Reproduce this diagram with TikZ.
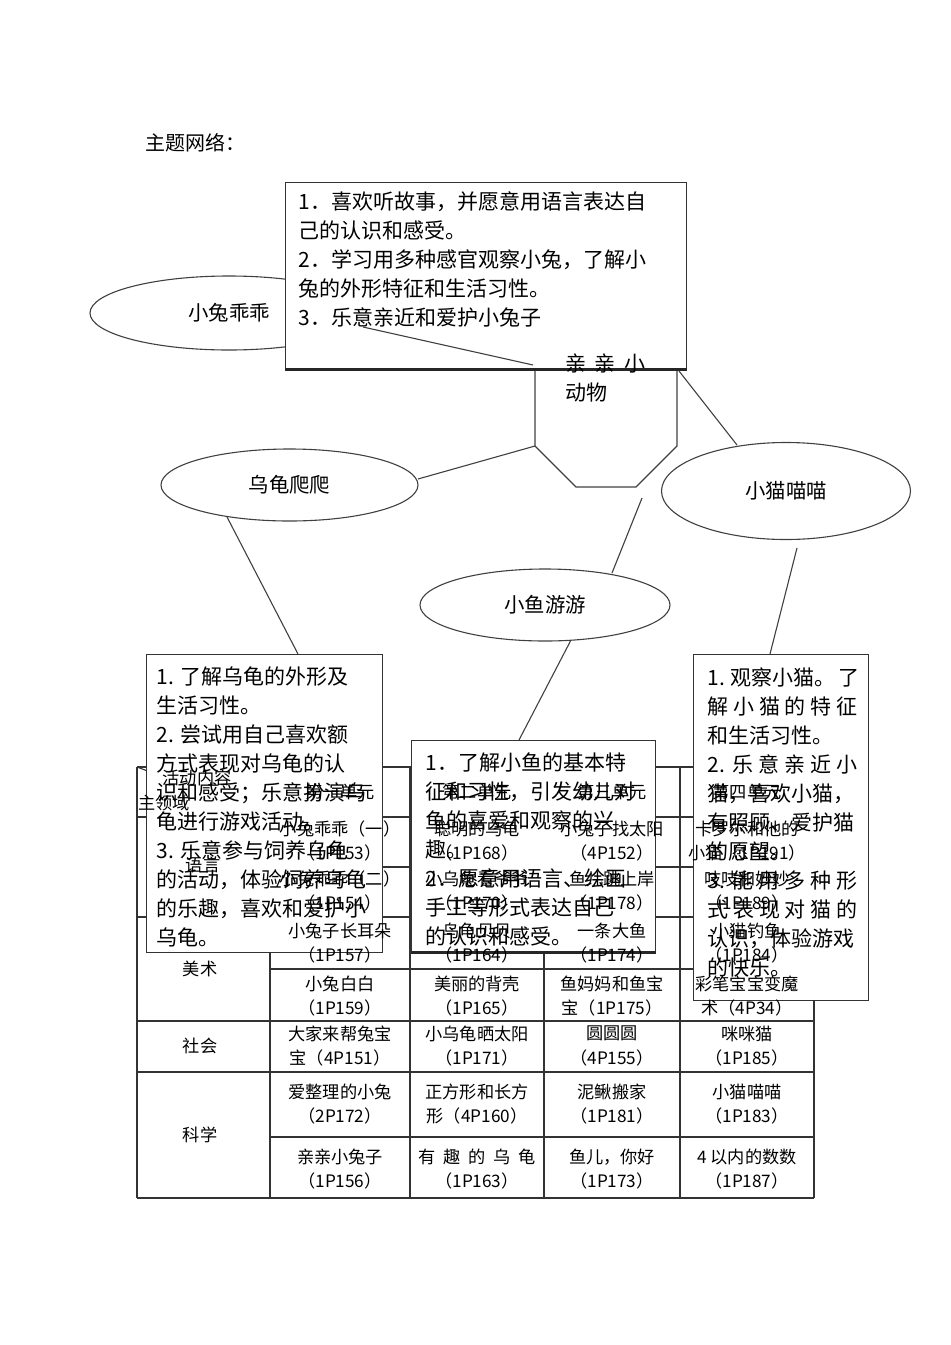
\documentclass[tikz,border=0pt]{standalone}
\usepackage{fontspec}
\setmainfont{Noto Sans CJK SC}
\usetikzlibrary{shapes.geometric}
\newcommand{\spreadline}[2][75pt]{\makebox[#1][s]{#2}}

\begin{document}
\begin{tikzpicture}[x=0.5pt,y=-0.5pt,
  every node/.style={inner sep=0pt},
  edge line/.style={draw=black!75,line width=0.55pt},
  topic/.style={ellipse,draw=black!75,line width=0.55pt,fill=white,font=\fontsize{10.2}{12}\selectfont},
  goal/.style={draw=black!80,fill=white,line width=0.6pt,anchor=north west},
  goaltext/.style={anchor=north west,align=left,font=\fontsize{10.5}{14.5}\selectfont},
  cellnode/.style={align=center,font=\fontsize{8.6}{12.3}\selectfont},
  tabline/.style={draw=black!80,line width=0.55pt}]
\useasboundingbox (0,0) rectangle (950,1345);

\node[anchor=west,font=\fontsize{10}{12}\selectfont] (title) at (145,143) {主题网络：};

% rabbit topic and centre
\node[topic,minimum width=139pt,minimum height=37pt] (rabbit) at (229,313) {小兔乖乖};
\draw[edge line] (576,280) -- (636,280) -- (677,321) -- (677,446) -- (636,487)
  -- (576,487) -- (535,446) -- (535,321) -- cycle;

\node[goal,minimum width=200.5pt,minimum height=93pt] (rabbitgoal) at (285,182) {};
\draw[line width=1.3pt,black!85] (rabbitgoal.south west) -- (rabbitgoal.south east);
\node[goaltext] (rabbittext) at (298,191) {1．喜欢听故事，并愿意用语言表达自\\
己的认识和感受。\\
2．学习用多种感官观察小兔，了解小\\
兔的外形特征和生活习性。\\
3．乐意亲近和爱护小兔子};
\node[goaltext] (hub) at (565,353) {\spreadline[40pt]{亲 亲 小}\\动物};

\coordinate (rabbitEnd) at (363,327);
\coordinate (hubTL) at (533,365);
\coordinate (hubL) at (535,446);
\coordinate (hubR) at (679,371);
\coordinate (hubB) at (642,498);
\coordinate (turtleR) at (418,479);
\coordinate (kittenTL) at (737,445);
\coordinate (fishT) at (612,573);
\coordinate (fishB) at (571,640);
\coordinate (fishgoalT) at (519,740);
\coordinate (turtleB) at (226,515);
\coordinate (turtlegoalT) at (298,654);
\coordinate (kittenB) at (797,548);
\coordinate (kittengoalT) at (770,654);

\draw[edge line] (rabbitEnd) -- (hubTL);
\draw[edge line] (hubL) -- (turtleR);
\draw[edge line] (hubR) -- (kittenTL);
\draw[edge line] (hubB) -- (fishT);
\draw[edge line] (fishB) -- (fishgoalT);
\draw[edge line] (turtleB) -- (turtlegoalT);
\draw[edge line] (kittenB) -- (kittengoalT);

\node[topic,minimum width=128.5pt,minimum height=36pt] (turtle) at (289.5,485) {乌龟爬爬};
\node[topic,minimum width=124.5pt,minimum height=48.5pt] (kitten) at (786,491) {小猫喵喵};
\node[topic,minimum width=125pt,minimum height=36pt] (fish) at (545,605) {小鱼游游};

% table
\draw[tabline] (137,767) -- (814,767) (137,817) -- (814,817) (270,867) -- (814,867)
  (137,917) -- (814,917) (270,969) -- (814,969) (137,1021) -- (814,1021)
  (137,1072) -- (814,1072) (270,1137) -- (814,1137) (137,1198) -- (814,1198);
\draw[tabline] (137,767) -- (137,1198) (270,767) -- (270,1198) (410,767) -- (410,1198)
  (544,767) -- (544,1198) (680,767) -- (680,1198) (814,767) -- (814,1198);
\draw[tabline] (137,767) -- (270,817);

% goal boxes
\node[goal,minimum width=118pt,minimum height=149pt] (turtlegoal) at (146,654) {};
\node[goaltext] (turtletext) at (156,666) {1. 了解乌龟的外形及\\
生活习性。\\
2. 尝试用自己喜欢额\\
方式表现对乌龟的认\\
识和感受；乐意扮演乌\\
龟进行游戏活动。\\
3. 乐意参与饲养乌龟\\
的活动，体验饲养乌龟\\
的乐趣，喜欢和爱护小\\
乌龟。};

\node[goal,minimum width=122pt,minimum height=105.5pt] (fishgoal) at (411,740) {};
\draw[line width=1.3pt,black!85] (fishgoal.south west) -- (fishgoal.south east);
\node[goaltext] (fishtext) at (425,752) {1．了解小鱼的基本特\\
征和习性，引发幼儿对\\
鱼的喜爱和观察的兴\\
趣。\\
2．愿意用语言、绘画\\
手工等形式表达自己\\
的认识和感受。};

\node[goal,minimum width=87.5pt,minimum height=173pt] (kittengoal) at (693,654) {};
\node[goaltext] (kittentext) at (707,667) {\spreadline{1. 观察小猫。 了}\\
\spreadline{解 小 猫 的 特 征}\\
和生活习性。\\
\spreadline{2. 乐 意 亲 近 小}\\
猫，喜欢小猫，\\
有照顾、爱护猫\\
的愿望。\\
\spreadline{3. 能 用 多 种 形}\\
\spreadline{式 表 现 对 猫 的}\\
认识，体验游戏\\
的快乐。};

% table texts
\node[cellnode] (corner1) at (197,778) {活动内容};
\node[cellnode] (corner2) at (164,803) {主领域};
\node[cellnode] (lang) at (203,865) {语言};
\node[cellnode] (art) at (200,969) {美术};
\node[cellnode] (soc) at (200,1046) {社会};
\node[cellnode] (sci) at (200,1135) {科学};

\node[cellnode] (h1) at (340,792) {第一单元};
\node[cellnode] (h2) at (477,792) {第二单元};
\node[cellnode] (h3) at (612,792) {第三单元};
\node[cellnode] (h4) at (747,792) {第四单元};

\node[cellnode] (c21) at (340,841) {小兔乖乖（一）\\（1P153）};
\node[cellnode] (c22) at (477,841) {聪明的乌龟\\（1P168）};
\node[cellnode] (c23) at (612,841) {小兔子找太阳\\（4P152）};
\node[cellnode] (c24) at (747,841) {卡罗尔和他的\\小猫（1P191）};

\node[cellnode] (c31) at (340,891) {小兔乖乖（二）\\（1P154）};
\node[cellnode] (c32) at (477,891) {小乌龟看爷爷\\（1P170）};
\node[cellnode] (c33) at (612,891) {鱼儿跳上岸\\（1P178）};
\node[cellnode] (c34) at (747,891) {吱吱和妙妙\\（1P189）};

\node[cellnode] (c41) at (340,943) {小兔子长耳朵\\（1P157）};
\node[cellnode] (c42) at (477,943) {乌龟贝贝\\（1P164）};
\node[cellnode] (c43) at (612,943) {一条大鱼\\（1P174）};
\node[cellnode] (c44) at (747,943) {小猫钓鱼\\（1P184）};

\node[cellnode] (c51) at (340,996) {小兔白白\\（1P159）};
\node[cellnode] (c52) at (477,996) {美丽的背壳\\（1P165）};
\node[cellnode] (c53) at (612,996) {鱼妈妈和鱼宝\\宝（1P175）};
\node[cellnode] (c54) at (747,996) {彩笔宝宝变魔\\术（4P34）};

\node[cellnode] (c61) at (340,1046) {大家来帮兔宝\\宝（4P151）};
\node[cellnode] (c62) at (477,1046) {小乌龟晒太阳\\（1P171）};
\node[cellnode] (c63) at (612,1046) {圆圆圆\\（4P155）};
\node[cellnode] (c64) at (747,1046) {咪咪猫\\（1P185）};

\node[cellnode] (c71) at (340,1104) {爱整理的小兔\\（2P172）};
\node[cellnode] (c72) at (477,1104) {正方形和长方\\形（4P160）};
\node[cellnode] (c73) at (612,1104) {泥鳅搬家\\（1P181）};
\node[cellnode] (c74) at (747,1104) {小猫喵喵\\（1P183）};

\node[cellnode] (c81) at (340,1169) {亲亲小兔子\\（1P156）};
\node[cellnode] (c82) at (477,1169) {\spreadline[59pt]{有 趣 的 乌 龟}\\（1P163）};
\node[cellnode] (c83) at (612,1169) {鱼儿，你好\\（1P173）};
\node[cellnode] (c84) at (747,1169) {4 以内的数数\\（1P187）};
\end{tikzpicture}
\end{document}
